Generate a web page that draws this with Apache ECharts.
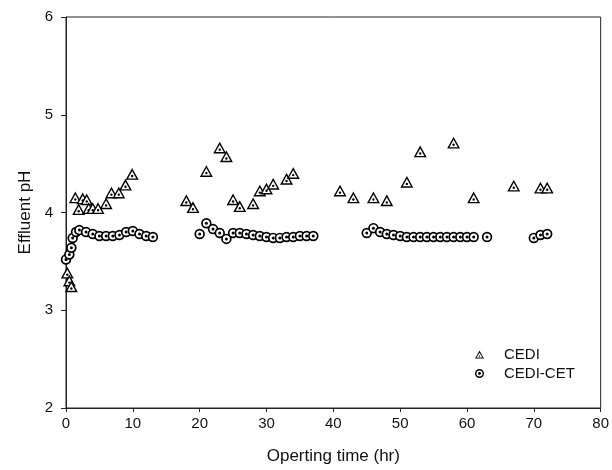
<!DOCTYPE html>
<html>
<head>
<meta charset="utf-8">
<script src="https://cdn.jsdelivr.net/npm/echarts@6/dist/echarts.min.js"></script>
<style>
  html, body { margin: 0; padding: 0; background: #fff; }
  #chart { width: 612px; height: 470px; }
</style>
</head>
<body>
<div id="chart"></div>
<script>
// Effluent pH of the two cells over operating time
const cediTime = [0.2, 0.5, 0.8, 1.4, 1.9, 2.5, 3.1, 3.4, 4.0, 4.8, 6.0, 6.8, 7.9, 8.9, 9.9,
  18, 19, 21, 23, 24, 25, 26, 28, 29, 30, 31, 33, 34, 41, 43, 46, 48, 51, 53, 58, 61, 67, 71, 72];
const cediPH = [3.37, 3.29, 3.23, 4.14, 4.02, 4.13, 4.12, 4.03, 4.03, 4.03, 4.08, 4.19, 4.19, 4.27, 4.38,
  4.11, 4.04, 4.41, 4.65, 4.56, 4.12, 4.05, 4.08, 4.21, 4.23, 4.28, 4.33, 4.39, 4.21, 4.14, 4.14, 4.11, 4.30, 4.61, 4.70, 4.14, 4.26, 4.24, 4.24];

const cetTime = [0, 0.5, 0.8, 1.0, 1.5, 2, 3, 4, 5, 6, 7, 8, 9, 10, 11, 12, 13,
  20, 21, 22, 23, 24, 25, 26, 27, 28, 29, 30, 31, 32, 33, 34, 35, 36, 37,
  45, 46, 47, 48, 49, 50, 51, 52, 53, 54, 55, 56, 57, 58, 59, 60, 61, 63,
  70, 71, 72];
const cetPH = [3.52, 3.57, 3.64, 3.74, 3.80, 3.82, 3.80, 3.78, 3.76, 3.76, 3.76, 3.77, 3.80, 3.81, 3.78, 3.76, 3.75,
  3.78, 3.89, 3.83, 3.79, 3.73, 3.79, 3.79, 3.78, 3.77, 3.76, 3.75, 3.74, 3.74, 3.75, 3.75, 3.76, 3.76, 3.76,
  3.79, 3.84, 3.80, 3.78, 3.77, 3.76, 3.75, 3.75, 3.75, 3.75, 3.75, 3.75, 3.75, 3.75, 3.75, 3.75, 3.75, 3.75,
  3.74, 3.77, 3.78];

const xTicks = [0, 10, 20, 30, 40, 50, 60, 70, 80];
const yTicks = [2, 3, 4, 5, 6];

const FONT = 'Liberation Sans, Arial, sans-serif';
const INK = '#111';

// open triangle with a centre dot (outer clockwise, inner counter-clockwise)
const triIcon = 'path://M50 0 L100 88 L0 88 Z M50 24 L16 76 L84 76 Z M42 60 A8 8 0 1 1 58 60 A8 8 0 1 1 42 60 Z';
// open circle with a centre dot
const ringIcon = 'path://M0 50 A50 50 0 1 1 100 50 A50 50 0 1 1 0 50 Z M16 50 A34 34 0 1 0 84 50 A34 34 0 1 0 16 50 Z M34 50 A16 16 0 1 1 66 50 A16 16 0 1 1 34 50 Z';

const zip = (a, b) => a.map((v, i) => [v, b[i]]);

function drawTriangle(params, api) {
  const p = api.coord([api.value(0), api.value(1)]);
  return {
    type: 'group',
    children: [
      { type: 'polygon',
        shape: { points: [[p[0], p[1] - 5.8], [p[0] + 5.3, p[1] + 3.8], [p[0] - 5.3, p[1] + 3.8]] },
        style: { fill: '#fff', stroke: '#000', lineWidth: 1.4 } },
      { type: 'circle', shape: { cx: p[0], cy: p[1] + 0.7, r: 1.2 }, style: { fill: '#000' } }
    ]
  };
}

function drawRing(params, api) {
  const p = api.coord([api.value(0), api.value(1)]);
  return {
    type: 'group',
    children: [
      { type: 'circle', shape: { cx: p[0], cy: p[1], r: 4.4 },
        style: { fill: '#fff', stroke: '#000', lineWidth: 1.7 } },
      { type: 'circle', shape: { cx: p[0], cy: p[1], r: 1.5 }, style: { fill: '#000' } }
    ]
  };
}

const chart = echarts.init(document.getElementById('chart'), null, { renderer: 'canvas' });
chart.setOption({
  animation: false,
  backgroundColor: '#fff',
  textStyle: { fontFamily: FONT },
  grid: { left: 66, right: 11, top: 17, bottom: 62, show: true, borderColor: '#222', borderWidth: 1, backgroundColor: 'transparent' },
  legend: {
    orient: 'vertical',
    left: 470, top: 342,
    itemWidth: 9, itemHeight: 9, itemGap: 4,
    textStyle: { fontFamily: FONT, fontSize: 15, color: INK, padding: [0, 0, 0, 15] },
    data: [
      { name: 'CEDI', icon: triIcon },
      { name: 'CEDI-CET', icon: ringIcon }
    ]
  },
  xAxis: {
    type: 'value', min: xTicks[0], max: xTicks[xTicks.length - 1], interval: 10,
    name: 'Operting time (hr)', nameLocation: 'middle', nameGap: 40,
    nameTextStyle: { fontFamily: FONT, fontSize: 17, color: INK },
    axisLine: { show: true, lineStyle: { color: '#222', width: 1 } },
    axisTick: { show: true, inside: false, length: 4, lineStyle: { color: '#222' } },
    axisLabel: { fontFamily: FONT, fontSize: 15, color: INK, margin: 8 },
    splitLine: { show: false }
  },
  yAxis: {
    type: 'value', min: yTicks[0], max: yTicks[yTicks.length - 1], interval: 1,
    name: 'Effluent pH', nameLocation: 'middle', nameGap: 32,
    nameTextStyle: { fontFamily: FONT, fontSize: 17, color: INK },
    axisLine: { show: true, lineStyle: { color: '#222', width: 1 } },
    axisTick: { show: true, inside: false, length: 5, lineStyle: { color: '#222' } },
    axisLabel: { fontFamily: FONT, fontSize: 15, color: INK, margin: 13 },
    splitLine: { show: false }
  },
  series: [
    { name: 'CEDI', type: 'custom', renderItem: drawTriangle, color: '#000',
      encode: { x: 0, y: 1 }, data: zip(cediTime, cediPH), z: 3 },
    { name: 'CEDI-CET', type: 'custom', renderItem: drawRing, color: '#000',
      encode: { x: 0, y: 1 }, data: zip(cetTime, cetPH), z: 2 }
  ]
});
</script>
</body>
</html>
